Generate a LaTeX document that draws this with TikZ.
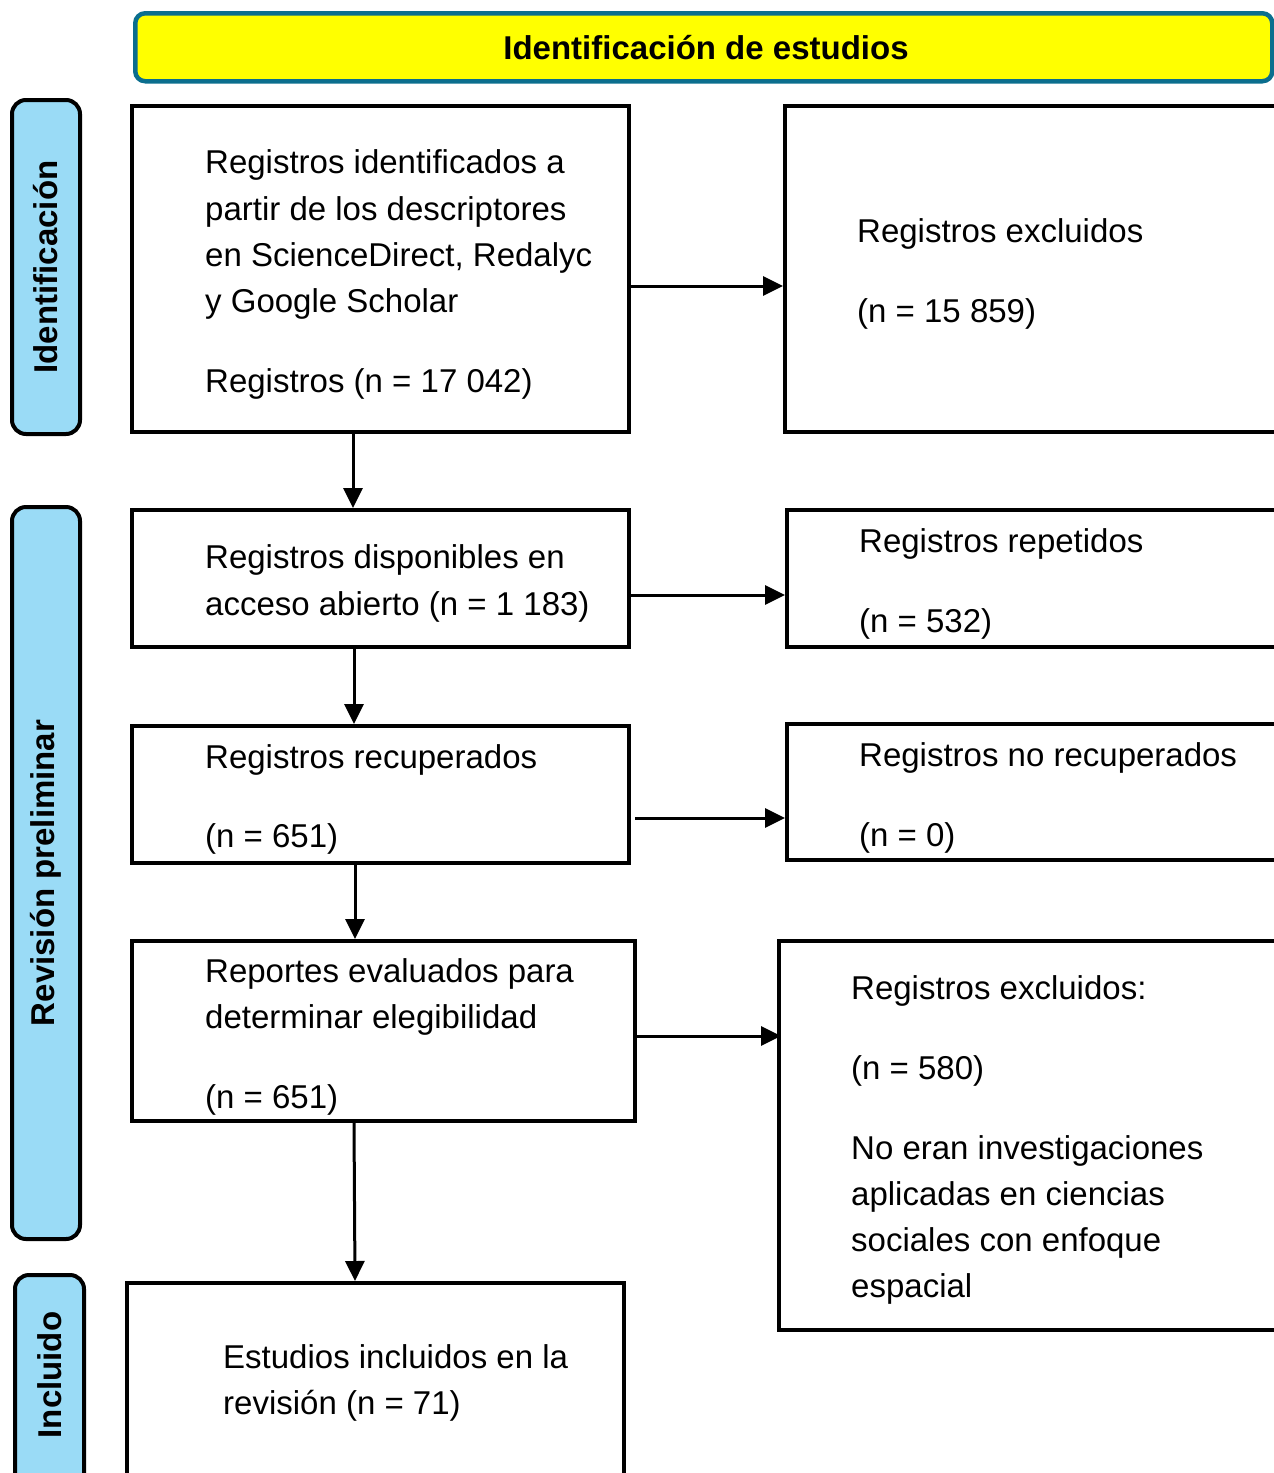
\documentclass[tikz,border=0pt]{standalone}
\usepackage{fontspec}
\setmainfont{Liberation Sans}
\usetikzlibrary{arrows.meta}
\definecolor{bannerline}{HTML}{0B6E8E}
\definecolor{bannerfill}{HTML}{FFFF00}
\definecolor{barfill}{HTML}{9ADBF6}
\tikzset{
  box/.style={draw=black, line width=4pt, fill=white, anchor=north west, inner sep=0pt},
  bar/.style={draw=black, line width=4pt, fill=barfill, rounded corners=14pt, anchor=north west, inner sep=0pt},
  txt/.style={anchor=base west, inner sep=0pt, font=\fontsize{33}{46}\selectfont},
  bartxt/.style={rotate=90, inner sep=0pt, font=\fontsize{33}{40}\selectfont\bfseries},
  arr/.style={line width=3pt, -{Triangle[length=20pt,width=19pt]}}
}
\begin{document}
\begin{tikzpicture}[x=1pt,y=-1pt]
\useasboundingbox (0,0) rectangle (1274,1473);
\clip (0,0) rectangle (1274,1473);
% banner
\node[draw=bannerline, line width=4.5pt, fill=bannerfill, rounded corners=10pt, anchor=north west, inner sep=0pt,
      minimum width=1137pt, minimum height=68pt] (banner) at (133,11) {};
\node[inner sep=0pt, font=\fontsize{33}{40}\selectfont\bfseries] (bannertxt) at (706,48) {Identificación de estudios};
% side bars
\node[bar, minimum width=68pt, minimum height=334pt] (bar1) at (10,98) {};
\node[bartxt] (bar1t) at (bar1.center) {Identificación};
\node[bar, minimum width=68pt, minimum height=732pt] (bar2) at (10,505) {};
\node[bartxt] (bar2t) at (bar2.center) {Revisión preliminar};
\node[bar, minimum width=69pt, minimum height=260pt] (bar3) at (13,1273) {};
\node[bartxt] (bar3t) at (50,1375) {Incluido};
% left boxes
\node[box, minimum width=497pt, minimum height=326pt] (b1) at (130,104) {};
\node[box, minimum width=497pt, minimum height=137pt] (b2) at (130,508) {};
\node[box, minimum width=497pt, minimum height=137pt] (b3) at (130,724) {};
\node[box, minimum width=503pt, minimum height=180pt] (b4) at (130,939) {};
\node[box, minimum width=497pt, minimum height=260pt] (b5) at (125,1281) {};
% right boxes
\node[box, minimum width=560pt, minimum height=326pt] (r1) at (783,104) {};
\node[box, minimum width=560pt, minimum height=137pt] (r2) at (785,508) {};
\node[box, minimum width=560pt, minimum height=136pt] (r3) at (785,722) {};
\node[box, minimum width=560pt, minimum height=389pt] (r4) at (777,939) {};
% texts
\node[txt] (t1a) at (205,173) {Registros identificados a};
\node[txt] (t1b) at (205,220) {partir de los descriptores};
\node[txt] (t1c) at (205,266) {en ScienceDirect, Redalyc};
\node[txt] (t1d) at (205,312) {y Google Scholar};
\node[txt] (t1e) at (205,392) {Registros (n = 17 042)};
\node[txt] (u1a) at (857,242) {Registros excluidos};
\node[txt] (u1b) at (857,322) {(n = 15 859)};
\node[txt] (t2a) at (205,568) {Registros disponibles en};
\node[txt] (t2b) at (205,615) {acceso abierto (n = 1 183)};
\node[txt] (u2a) at (859,552) {Registros repetidos};
\node[txt] (u2b) at (859,632) {(n = 532)};
\node[txt] (t3a) at (205,768) {Registros recuperados};
\node[txt] (t3b) at (205,847) {(n = 651)};
\node[txt] (u3a) at (859,766) {Registros no recuperados};
\node[txt] (u3b) at (859,846) {(n = 0)};
\node[txt] (t4a) at (205,982) {Reportes evaluados para};
\node[txt] (t4b) at (205,1028) {determinar elegibilidad};
\node[txt] (t4c) at (205,1108) {(n = 651)};
\node[txt] (u4a) at (851,999) {Registros excluidos:};
\node[txt] (u4b) at (851,1079) {(n = 580)};
\node[txt] (u4c) at (851,1159) {No eran investigaciones};
\node[txt] (u4d) at (851,1205) {aplicadas en ciencias};
\node[txt] (u4e) at (851,1251) {sociales con enfoque};
\node[txt] (u4f) at (851,1297) {espacial};
\node[txt] (t5a) at (223,1368) {Estudios incluidos en la};
\node[txt] (t5b) at (223,1414) {revisión (n = 71)};
% helper coordinates
\coordinate (h1) at (0,286);
\coordinate (h2) at (0,595);
\coordinate (h3) at (0,818);
\coordinate (h4) at (0,1036);
\coordinate (v1) at (353,0);
\coordinate (v2) at (354,0);
\coordinate (v3) at (355,0);
% connectors
\draw[arr] (b1.east |- h1) -- (r1.west |- h1);
\draw[arr] (b2.east |- h2) -- (r2.west |- h2);
\draw[arr] ([xshift=4pt]b3.east |- h3) -- (r3.west |- h3);
\draw[arr] (b4.east |- h4) -- ([xshift=4pt]r4.west |- h4);
\draw[arr] (b1.south -| v1) -- (b2.north -| v1);
\draw[arr] (b2.south -| v2) -- (b3.north -| v2);
\draw[arr] (b3.south -| v3) -- (b4.north -| v3);
\draw[arr] (b4.south -| v2) -- (b5.north -| v3);
\end{tikzpicture}
\end{document}
